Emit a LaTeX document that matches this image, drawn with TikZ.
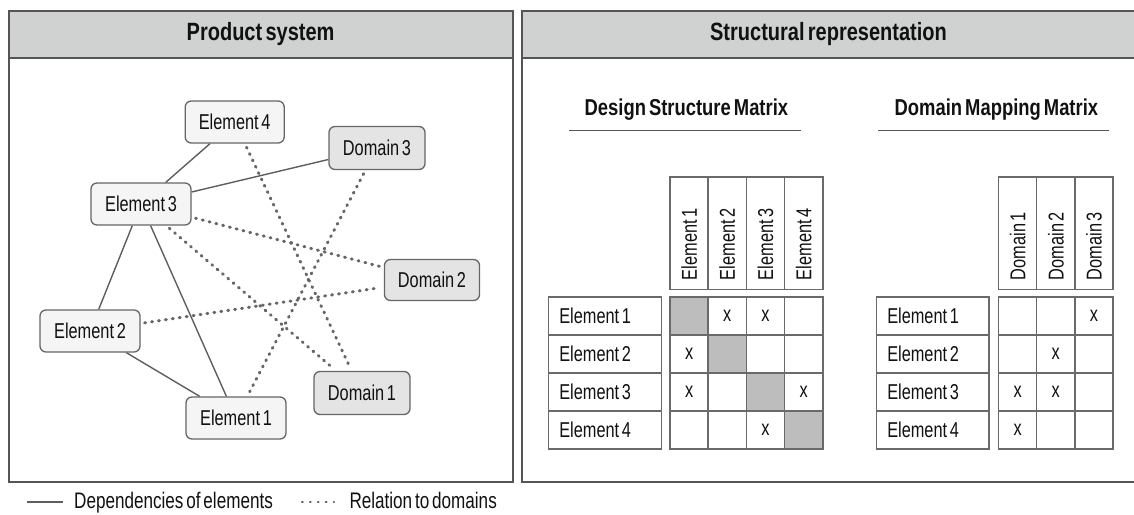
\documentclass[tikz,border=0pt]{standalone}
\usepackage{fontspec}
\setmainfont{Liberation Sans}[FakeStretch=0.76,WordSpace=0.6]
\newfontfamily\bff{Liberation Sans}[FakeStretch=0.8,WordSpace=0.6]
\newcommand\lblfont{\fontsize{21.5}{25}\selectfont}
\newcommand\legfont{\fontsize{22.5}{26}\selectfont}
\newcommand\hdrfont{\bff\bfseries\fontsize{25}{29}\selectfont}
\newcommand\ttlfont{\bff\bfseries\fontsize{23}{27}\selectfont}
\definecolor{pan}{HTML}{555555}
\definecolor{hdrfill}{HTML}{D0D2D1}
\definecolor{nodeln}{HTML}{666666}
\definecolor{elemfill}{HTML}{F5F5F5}
\definecolor{domfill}{HTML}{E3E4E3}
\definecolor{lnc}{HTML}{5E5E5E}
\definecolor{dotc}{HTML}{666666}
\definecolor{grid}{HTML}{6A6A6A}
\definecolor{diagfill}{HTML}{BDBDBD}
\definecolor{txt}{HTML}{111111}
\begin{document}
\begin{tikzpicture}[x=1pt,y=-1pt,
  elem/.style={draw=nodeln, line width=1.3pt, rounded corners=6pt, fill=elemfill, minimum width=100pt, minimum height=42pt, inner sep=0pt, font=\lblfont, text=txt},
  dom/.style={elem, fill=domfill, minimum width=96pt, minimum height=43pt},
  dep/.style={draw=lnc, line width=1.4pt},
  rel/.style={draw=dotc, line width=3pt, line cap=round, dash pattern=on 1pt off 6pt, shorten <=4pt, shorten >=4pt},
  hdr/.style={draw=pan, line width=2pt, fill=hdrfill, inner sep=0pt, font=\hdrfont, text=txt},
  body/.style={draw=pan, line width=2pt, inner sep=0pt},
  colhd/.style={draw=grid, line width=1.5pt, rotate=90, minimum width=112.3pt, minimum height=38.2pt, inner sep=0pt, font=\lblfont, text=txt},
  rowhd/.style={draw=grid, line width=1.5pt, minimum width=113.4pt, minimum height=38pt, inner sep=0pt, font=\lblfont, text=txt},
  cell/.style={draw=grid, line width=1.5pt, minimum width=38.2pt, minimum height=38pt, inner sep=0pt, font=\lblfont, text=txt},
  ttl/.style={font=\ttlfont, text=txt, inner sep=0pt},
  uline/.style={draw=pan, line width=1.5pt},
  leg/.style={font=\legfont, text=txt, inner sep=0pt, anchor=base west}
]
\useasboundingbox (0,0) rectangle (1134,514);
% panels
\node[body, minimum width=504.2pt, minimum height=470.7pt] (lbody) at (260.6,246.35) {};
\node[hdr, minimum width=504.2pt, minimum height=46.7pt] (lhdr) at (260.6,34.35) {Product system};
\node[body, minimum width=613pt, minimum height=470.7pt] (rbody) at (828.5,246.35) {};
\node[hdr, minimum width=613pt, minimum height=46.7pt] (rhdr) at (828.5,34.35) {Structural representation};
% graph nodes
\node[elem, minimum width=99pt] (e4) at (234.7,122) {Element 4};
\node[dom] (d3) at (377,148) {Domain 3};
\node[elem] (e3) at (141,204) {Element 3};
\node[dom, minimum width=95pt, minimum height=41pt] (d2) at (432,280) {Domain 2};
\node[elem] (e2) at (90,331) {Element 2};
\node[dom] (d1) at (362,393) {Domain 1};
\node[elem] (e1) at (236,418) {Element 1};
% dependencies
\draw[dep] (e4) -- (e3);
\draw[dep] (e3) -- (d3);
\draw[dep] (e3) -- (e2);
\draw[dep] (e3) -- (e1);
\draw[dep] (e2) -- (e1);
% relations
\draw[rel] (e4) -- (d1);
\draw[rel] (d3) -- (e1);
\draw[rel] (e3) -- (d2);
\draw[rel] (e3) -- (d1);
\draw[rel] (e2) -- (d2);
% titles
\node[ttl] (dsmt) at (686.4,110) {Design Structure Matrix};
\coordinate (dsmu1) at (569,130.7);
\coordinate (dsmu2) at (801,130.7);
\draw[uline] (dsmu1) -- (dsmu2);
\node[ttl] (dmmt) at (996.4,110) {Domain Mapping Matrix};
\coordinate (dmmu1) at (878.3,130.7);
\coordinate (dmmu2) at (1109.3,130.7);
\draw[uline] (dmmu1) -- (dmmu2);
% DSM
\foreach \c in {1,2,3,4}
  \node[colhd] (dsmh\c) at ({670+38.2*(\c-0.5)},233.15) {\makebox[94pt][l]{Element \c}};
\foreach \r/\y in {1/316,2/354,3/392,4/430}
  \node[rowhd] (dsmr\r) at (605,\y) {\makebox[91.4pt][l]{Element \r}};
\foreach \c/\f/\t in {1/diagfill/{},2/white/x,3/white/x,4/white/{}}
  \node[cell, fill=\f] (dsm-1-\c) at ({670+38.2*(\c-0.5)},316) {\t};
\foreach \c/\f/\t in {1/white/x,2/diagfill/{},3/white/{},4/white/{}}
  \node[cell, fill=\f] (dsm-2-\c) at ({670+38.2*(\c-0.5)},354) {\t};
\foreach \c/\f/\t in {1/white/x,2/white/{},3/diagfill/{},4/white/x}
  \node[cell, fill=\f] (dsm-3-\c) at ({670+38.2*(\c-0.5)},392) {\t};
\foreach \c/\f/\t in {1/white/{},2/white/{},3/white/x,4/diagfill/{}}
  \node[cell, fill=\f] (dsm-4-\c) at ({670+38.2*(\c-0.5)},430) {\t};
% DMM
\foreach \c in {1,2,3}
  \node[colhd] (dmmh\c) at ({998.5+38.2*(\c-0.5)},233.15) {\makebox[94pt][l]{Domain \c}};
\foreach \r/\y in {1/316,2/354,3/392,4/430}
  \node[rowhd, minimum width=112.7pt] (dmmr\r) at (932.6,\y) {\makebox[90.7pt][l]{Element \r}};
\foreach \c/\t in {1/{},2/{},3/x}
  \node[cell] (dmm-1-\c) at ({998.5+38.2*(\c-0.5)},316) {\t};
\foreach \c/\t in {1/{},2/x,3/{}}
  \node[cell] (dmm-2-\c) at ({998.5+38.2*(\c-0.5)},354) {\t};
\foreach \c/\t in {1/x,2/x,3/{}}
  \node[cell] (dmm-3-\c) at ({998.5+38.2*(\c-0.5)},392) {\t};
\foreach \c/\t in {1/x,2/{},3/{}}
  \node[cell] (dmm-4-\c) at ({998.5+38.2*(\c-0.5)},430) {\t};
% legend
\coordinate (la1) at (26.7,502);
\coordinate (la2) at (63.3,502);
\draw[dep] (la1) -- (la2);
\node[leg] (lt1) at (74,508) {Dependencies of elements};
\coordinate (lb1) at (302,502);
\coordinate (lb2) at (334,502);
\draw[draw=dotc, line width=2.2pt, line cap=round, dash pattern=on 0.8pt off 7.1pt] (lb1) -- (lb2);
\node[leg] (lt2) at (349.3,508) {Relation to domains};
\end{tikzpicture}
\end{document}
